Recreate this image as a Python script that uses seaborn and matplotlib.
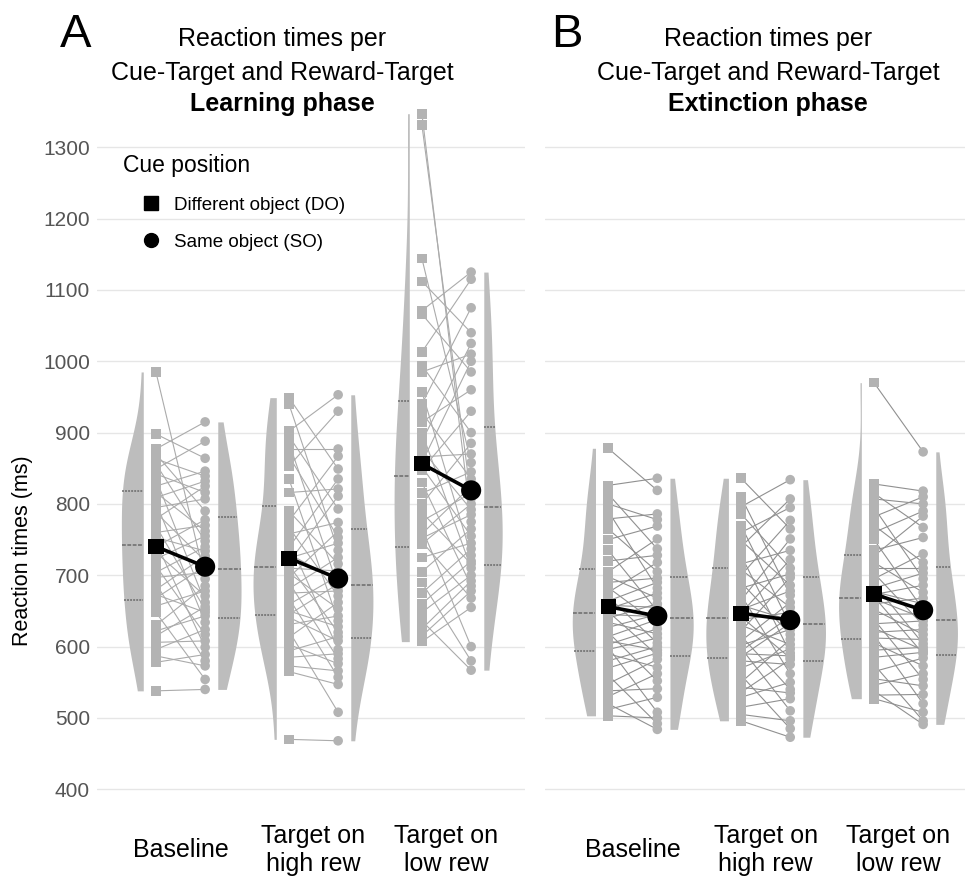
import numpy as np
import pandas as pd
import seaborn as sns
import matplotlib.pyplot as plt
from matplotlib.lines import Line2D

sns.set_theme(style='white')
plt.rcParams['font.family'] = ['Liberation Sans', 'DejaVu Sans']
plt.rcParams['text.color'] = 'black'

groups = ['Baseline', 'Target on\nhigh rew', 'Target on\nlow rew']
cues = ['DO', 'SO']
yticks = [400, 500, 600, 700, 800, 900, 1000, 1100, 1200, 1300]

# reaction times (ms) per subject, sorted high -> low
learn_base_do = [985, 898, 877, 870, 863, 856, 849, 842, 835, 825, 816, 809, 802, 795, 788, 779, 769, 760, 753, 746,
                 740, 732, 723, 713, 704, 697, 688, 680, 673, 668, 657, 648, 630, 622, 615, 606, 596, 587, 578, 538]
learn_base_so = [915, 888, 864, 846, 839, 832, 825, 816, 807, 790, 778, 770, 762, 755, 748, 740, 734, 727, 720, 713,
                 704, 695, 685, 678, 671, 662, 656, 652, 648, 643, 634, 624, 617, 608, 599, 589, 580, 573, 554, 540]
learn_high_do = [949, 940, 902, 895, 886, 877, 867, 853, 835, 816, 790, 776, 767, 758, 748, 739, 730, 724, 718, 714,
                 710, 703, 697, 690, 681, 675, 668, 659, 650, 645, 641, 631, 622, 613, 603, 594, 585, 573, 565, 470]
learn_high_so = [953, 930, 877, 867, 849, 835, 821, 811, 793, 774, 762, 753, 745, 735, 725, 716, 706, 699, 692, 688,
                 684, 678, 671, 662, 653, 643, 636, 628, 620, 614, 608, 596, 590, 583, 576, 566, 557, 547, 508, 468]
learn_low_do = [1347, 1331, 1144, 1112, 1071, 1066, 1013, 994, 985, 957, 940, 928, 915, 900, 888, 876, 866, 858, 852, 848,
                830, 815, 800, 788, 776, 766, 758, 752, 747, 744, 725, 705, 690, 675, 660, 648, 636, 625, 615, 607]
learn_low_so = [1125, 1115, 1075, 1040, 1025, 1010, 1000, 985, 960, 930, 900, 885, 870, 858, 845, 835, 825, 815, 808, 800,
                792, 785, 775, 765, 755, 745, 737, 728, 720, 716, 710, 700, 692, 685, 678, 668, 655, 600, 580, 567]
ext_base_do = [878, 826, 814, 800, 790, 779, 765, 750, 735, 720, 705, 698, 690, 683, 676, 670, 664, 658, 653, 649,
               645, 640, 634, 627, 620, 614, 608, 603, 599, 596, 590, 580, 570, 560, 548, 538, 530, 520, 512, 503]
ext_base_so = [836, 819, 786, 778, 769, 751, 737, 728, 718, 705, 696, 690, 682, 675, 668, 660, 655, 650, 645, 642,
               638, 632, 625, 618, 612, 605, 600, 595, 591, 588, 582, 571, 562, 552, 541, 529, 508, 500, 492, 484]
ext_high_do = [836, 810, 796, 786, 770, 760, 749, 740, 728, 716, 708, 700, 690, 682, 672, 665, 658, 652, 647, 642,
               638, 630, 622, 615, 608, 602, 598, 594, 590, 586, 580, 570, 560, 550, 543, 536, 529, 515, 505, 496]
ext_high_so = [834, 807, 795, 777, 765, 751, 735, 722, 710, 702, 697, 686, 678, 672, 662, 655, 648, 642, 637, 633,
               630, 624, 617, 610, 603, 597, 591, 587, 584, 582, 575, 562, 550, 540, 535, 527, 510, 496, 485, 473]
ext_low_do = [970, 828, 815, 807, 795, 782, 770, 760, 750, 735, 727, 718, 710, 703, 695, 688, 682, 677, 673, 670,
              667, 660, 652, 645, 638, 632, 626, 620, 616, 612, 605, 595, 585, 575, 565, 555, 546, 538, 532, 527]
ext_low_so = [873, 818, 810, 800, 790, 783, 767, 753, 730, 718, 710, 703, 695, 686, 676, 668, 660, 652, 646, 640,
              636, 630, 624, 617, 610, 604, 599, 595, 592, 590, 584, 573, 562, 554, 545, 533, 520, 508, 496, 491]

# rank of each subject's SO value (subjects ordered as in the DO lists)
pair_a = [21, 2, 0, 9, 4, 14, 1, 7, 25, 3, 12, 5, 30, 8, 18, 6, 27, 11, 16, 34,
          10, 24, 13, 32, 15, 20, 36, 17, 28, 19, 23, 38, 22, 29, 26, 33, 31, 37, 35, 39]
pair_b = [4, 13, 0, 8, 20, 2, 11, 1, 26, 6, 15, 3, 22, 9, 31, 5, 18, 12, 7, 28,
          16, 24, 10, 33, 14, 21, 36, 17, 27, 19, 30, 25, 38, 23, 34, 29, 32, 35, 37, 39]
pair_c = [22, 18, 13, 3, 0, 7, 1, 10, 5, 27, 2, 15, 8, 30, 4, 20, 12, 6, 24, 9,
          33, 14, 11, 29, 17, 37, 16, 21, 35, 19, 25, 23, 38, 26, 28, 31, 39, 32, 34, 36]
pair_d = [1, 0, 6, 3, 12, 2, 9, 4, 17, 7, 5, 14, 10, 21, 8, 25, 11, 16, 13, 29,
          19, 15, 23, 18, 33, 20, 27, 22, 36, 24, 31, 26, 28, 38, 30, 34, 32, 39, 35, 37]
pair_e = [0, 1, 6, 3, 12, 2, 9, 4, 17, 7, 5, 14, 10, 21, 8, 25, 11, 16, 13, 29,
          19, 15, 23, 18, 33, 20, 27, 22, 36, 24, 31, 26, 28, 38, 30, 34, 32, 39, 35, 37]

learning = [(learn_base_do, learn_base_so, pair_a),
            (learn_high_do, learn_high_so, pair_b),
            (learn_low_do, learn_low_so, pair_c)]
extinction = [(ext_base_do, ext_base_so, pair_d),
              (ext_high_do, ext_high_so, pair_b),
              (ext_low_do, ext_low_so, pair_e)]


def build(conds):
    rows = []
    for g, (do, so, pair) in enumerate(conds):
        so = np.array(so)[pair]
        for s in range(len(do)):
            rows.append(dict(group=groups[g], g=g, unit=f'{g}-{s}', cue='DO', rt=do[s]))
            rows.append(dict(group=groups[g], g=g, unit=f'{g}-{s}', cue='SO', rt=so[s]))
    df = pd.DataFrame(rows)
    side = df['cue'].map({'DO': -1, 'SO': 1})
    df['ppos'] = df['g'] + side * 0.185
    # seaborn centres a split half on its slot, so push the slots outwards
    df['vpos'] = df['g'] + side * 0.3675
    return df


def draw(ax, df, xlim, line_col):
    grey = '#bdbdbd'
    sns.violinplot(data=df, x='vpos', y='rt', hue='cue', hue_order=cues, split=True,
                   native_scale=True, dodge=False, inner='quart', cut=0, width=0.66,
                   palette={'DO': grey, 'SO': grey}, linewidth=0, legend=False,
                   inner_kws=dict(color='#6a6a6a', linewidth=1.1), ax=ax)
    sns.lineplot(data=df, x='ppos', y='rt', units='unit', estimator=None,
                 color=line_col, lw=0.8, legend=False, ax=ax)
    sns.scatterplot(data=df, x='ppos', y='rt', style='cue', markers={'DO': 's', 'SO': 'o'},
                    color='#b3b3b3', s=48, linewidth=0, legend=False, zorder=3, ax=ax)
    sns.lineplot(data=df, x='ppos', y='rt', hue='group', palette=['black'] * 3,
                 errorbar=None, lw=2.6, legend=False, zorder=4, ax=ax)
    means = df.groupby(['group', 'cue'], as_index=False)[['ppos', 'rt']].mean()
    sns.scatterplot(data=means, x='ppos', y='rt', style='cue', markers={'DO': 's', 'SO': 'o'},
                    size='cue', sizes={'DO': 120, 'SO': 210}, color='black', linewidth=0,
                    legend=False, zorder=5, ax=ax)

    ax.set_xlim(*xlim)
    ax.set_ylim(385, 1355)
    ax.set_yticks(yticks)
    ax.set_xticks([0, 1, 2])
    ax.set_xticklabels(groups, fontsize=18, color='black')
    for lab in ax.get_xticklabels():
        lab.set_va('center')
    ax.tick_params(axis='x', length=0, pad=36)
    ax.tick_params(axis='y', length=0, pad=5, labelsize=15, labelcolor='#555555')
    ax.grid(axis='y', color='#e6e6e6', lw=1)
    ax.set_axisbelow(True)
    ax.set_xlabel('')
    ax.set_ylabel('')
    sns.despine(ax=ax, left=True, bottom=True)


fig = plt.figure(figsize=(9.65, 8.8), dpi=100)
ax_a = fig.add_axes([97 / 965, 80 / 880, 428 / 965, 692 / 880])
ax_b = fig.add_axes([545 / 965, 80 / 880, 420 / 965, 692 / 880])

draw(ax_a, build(learning), (-0.628, 2.59), '#ababab')
draw(ax_b, build(extinction), (-0.66, 2.50), '#909090')
ax_b.tick_params(axis='y', labelleft=False)

handles = [Line2D([], [], marker='s', color='black', linestyle='', markersize=10),
           Line2D([], [], marker='o', color='black', linestyle='', markersize=10)]
ax_a.legend(handles, ['Different object (DO)', 'Same object (SO)'], title='Cue position',
            loc='upper left', bbox_to_anchor=(0.021, 0.958), frameon=False, fontsize=13.5,
            title_fontsize=16.5, labelspacing=1.05, handlelength=3.0, handletextpad=-0.25,
            alignment='left')

fig.text(0.023, 1 - 551 / 880, 'Reaction times (ms)', rotation=90, ha='center', va='center', fontsize=15.5)

for xc, phase in [(282 / 965, 'Learning phase'), (768 / 965, 'Extinction phase')]:
    fig.text(xc, 1 - 46 / 880, 'Reaction times per', ha='center', va='baseline', fontsize=18)
    fig.text(xc, 1 - 80 / 880, 'Cue-Target and Reward-Target', ha='center', va='baseline', fontsize=18)
    fig.text(xc, 1 - 111 / 880, phase, ha='center', va='baseline', fontsize=18, fontweight='bold')
for xc, letter in [(76 / 965, 'A'), (567 / 965, 'B')]:
    fig.text(xc, 1 - 47 / 880, letter, ha='center', va='baseline', fontsize=34)

fig.savefig('out.png', dpi=100)
